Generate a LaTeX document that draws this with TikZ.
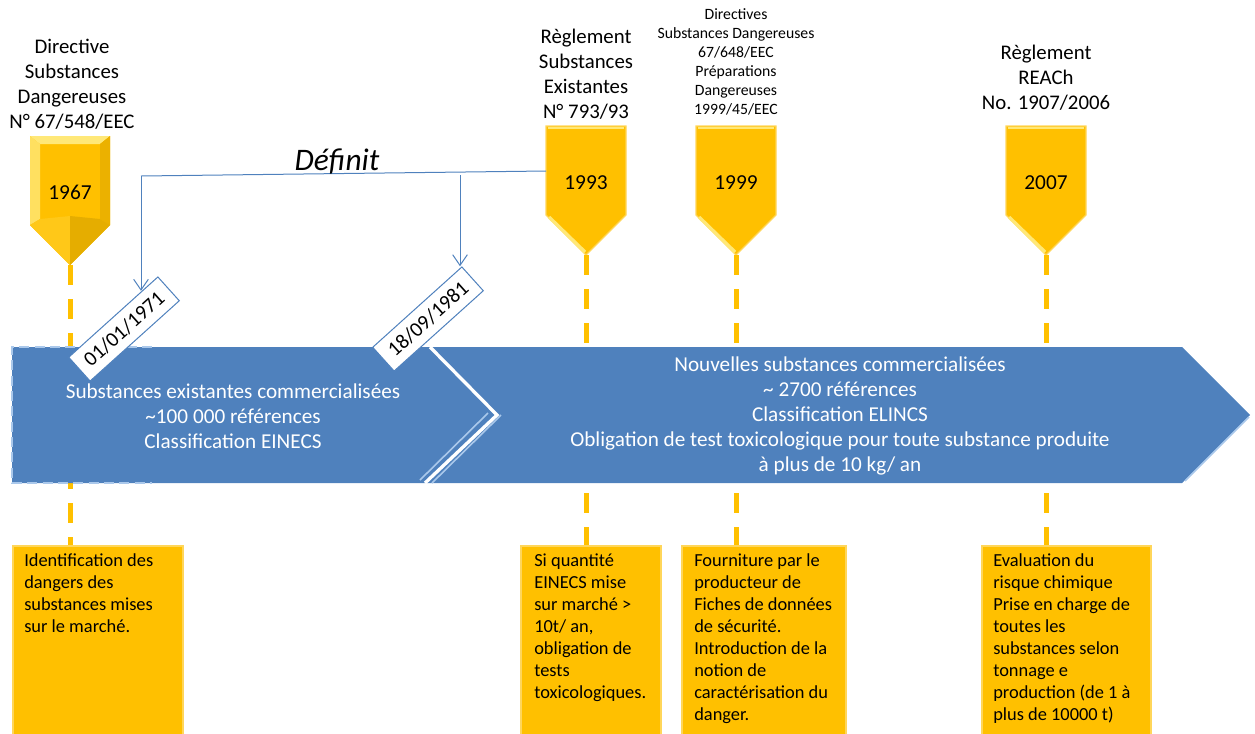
\documentclass[tikz,border=0pt]{standalone}
\usepackage{fontspec}
\setmainfont{Carlito}
\usetikzlibrary{arrows.meta,calc}

\definecolor{markyellow}{RGB}{255,192,0}
\definecolor{markedge}{RGB}{255,214,90}
\definecolor{marklight}{RGB}{255,232,120}
\definecolor{arrowblue}{RGB}{79,129,189}
\definecolor{paleblue}{RGB}{170,200,235}

\tikzset{
  markshape/.style={fill=markyellow, draw=markedge, line width=1pt},
  yeartxt/.style={inner sep=0pt, font=\fontsize{16}{18}\selectfont},
  lawtxt/.style={inner sep=0pt, align=center, font=\fontsize{15.6}{18.75}\selectfont},
  lawsmall/.style={inner sep=0pt, align=center, font=\fontsize{11.8}{14.25}\selectfont},
  timeline/.style={draw=markyellow, line width=3.75pt, dash pattern=on 15pt off 10.5pt},
  bandtxt/.style={inner sep=0pt, align=center, text=white, font=\fontsize{15.9}{18.75}\selectfont},
  datetag/.style={draw=arrowblue, fill=white, line width=0.75pt, rotate=42, inner sep=0pt,
    minimum width=90pt, minimum height=24pt, font=\fontsize{15.6}{18}\selectfont},
  defline/.style={draw=arrowblue, line width=0.75pt},
  defarrow/.style={defline, -{Straight Barb[length=8pt,width=11pt]}},
  infobox/.style={fill=markyellow, draw=markedge, line width=1.5pt, anchor=north west,
    minimum height=150pt},
  infotxt/.style={inner sep=0pt, anchor=north west, align=left, font=\fontsize{13.8}{16.5}\selectfont},
}

% pentagon marker: centre x, top y, name, year
\newcommand{\yearmark}[4]{%
  \draw[markshape] (#1-40,#2) -- (#1+40,#2) -- (#1+40,#2+89) -- (#1,#2+129) -- (#1-40,#2+89) -- cycle;
  \draw[marklight, line width=2pt] (#1-38,#2+2) -- (#1+38,#2+2);
  \draw[marklight, line width=2.5pt] (#1-37,#2+91) -- (#1-1,#2+126);
  \node[yeartxt] (#3) at (#1,#2+57) {#4};
  \coordinate (#3tip) at (#1,#2+129);
}

\begin{document}
\begin{tikzpicture}[x=0.75pt,y=0.75pt,yscale=-1,xscale=1]
\useasboundingbox (0,0) rectangle (1255,733);

%Shape: bottom boxes
\node[infobox, minimum width=127.5pt] (b67) at (12,545) {};
\node[infobox, minimum width=105pt] (b93) at (520,545) {};
\node[infobox, minimum width=123pt] (b99) at (681,545) {};
\node[infobox, minimum width=126.75pt] (b07) at (981,545) {};

% markers 1993 .. 2007
\yearmark{586}{126}{m93}{1993}
\yearmark{736}{126}{m99}{1999}
\yearmark{1046}{126}{m07}{2007}

% marker 1967 (bevelled)
\fill[markyellow] (30,136) -- (110,136) -- (110,225) -- (70,265) -- (30,225) -- cycle;
\fill[marklight] (30,136) -- (110,136) -- (100,144) -- (40,144) -- cycle;
\fill[marklight!80!markyellow] (30,136) -- (40,144) -- (40,219) -- (30,225) -- cycle;
\fill[markyellow!92!black] (110,136) -- (100,144) -- (100,219) -- (110,225) -- cycle;
\fill[markyellow!80!marklight] (30,225) -- (40,219) -- (70,216) -- (70,265) -- cycle;
\fill[markyellow!90!black] (110,225) -- (100,219) -- (70,216) -- (70,265) -- cycle;
\node[yeartxt] (m67) at (70,192) {1967};
\coordinate (m67tip) at (70,265);

%Straight Lines: time lines
\draw[timeline] (m67tip) -- (m67tip |- b67.north);
\draw[timeline] (m93tip) -- (m93tip |- b93.north);
\draw[timeline] (m99tip) -- (m99tip |- b99.north);
\draw[timeline] (m07tip) -- (m07tip |- b07.north);

%Shape: blue bands
\fill[arrowblue] (12,347) -- (430,347) -- (497,415) -- (425,483) -- (12,483) -- cycle;
\fill[arrowblue] (430,347) -- (1182,347) -- (1250,415) -- (1182,483) -- (425,483) -- (497,415) -- cycle;
\draw[white, line width=2.5pt] (430,347) -- (497,415) -- (425,483);
\draw[paleblue, line width=1.2pt] (420,480) -- (488,413);
\draw[paleblue, line width=1.2pt] (432,483) -- (501,415);
\draw[paleblue, line width=1.2pt] (1185,481) -- (1249,417);
\draw[paleblue, line width=1.5pt, dash pattern=on 7.5pt off 4pt] (152,347) -- (12,347) -- (12,483) -- (152,483);

% Text Node
\node[bandtxt] (oldsub) at (233,416) {Substances existantes commercialisées\\\textasciitilde100 000 références\\Classification EINECS};
% Text Node
\node[bandtxt] (newsub) at (840,416) {Nouvelles substances commercialisées\\\textasciitilde\ 2700 références\\Classification ELINCS\\Obligation de test toxicologique pour toute substance produite\\à plus de 10 kg/ an};

% date tags
\node[datetag] (tagA) at (124,329) {01/01/1971};
\node[datetag] (tagB) at (428,319) {18/09/1981};

%Straight Lines: Définit
\coordinate (m93west) at (546,171);
\coordinate (defcorner) at (141,176);
\coordinate (defsplit) at (460,175);
\coordinate (tipA) at ($(tagA.north west)!0.82!(tagA.north east)$);
\draw[defline] (m93west) -- (defcorner);
\draw[defarrow] (defcorner) -- (defcorner |- tipA);
\draw[defarrow] (defsplit) -- (defsplit |- tagB.north east);
\node[inner sep=0pt, font=\fontsize{23.5}{26}\selectfont\itshape] (definit) at (337,162) {Définit};

% Text Node: laws
\node[lawtxt] (law67) at (72,84) {Directive\\Substances\\Dangereuses\\N° 67/548/EEC};
\node[lawtxt] (law93) at (586,74) {Règlement\\Substances\\Existantes\\N° 793/93};
\node[lawsmall] (law99) at (736,62) {Directives\\Substances Dangereuses\\67/648/EEC\\Préparations\\Dangereuses\\1999/45/EEC};
\node[lawtxt] (law07) at (1046,78) {Règlement\\REACh\\No. 1907/2006};

% Text Node: boxes
\node[infotxt] (t67) at (24,553) {Identification des\\dangers des\\substances mises\\sur le marché.};
\node[infotxt] (t93) at (534,553) {Si quantité\\EINECS mise\\sur marché >\\10t/ an,\\obligation de\\tests\\toxicologiques.};
\node[infotxt] (t99) at (694,553) {Fourniture par le\\producteur de\\Fiches de données\\de sécurité.\\Introduction de la\\notion de\\caractérisation du\\danger.};
\node[infotxt] (t07) at (993,553) {Evaluation du\\risque chimique\\Prise en charge de\\toutes les\\substances selon\\tonnage e\\production (de 1 à\\plus de 10000 t)};

\end{tikzpicture}
\end{document}
